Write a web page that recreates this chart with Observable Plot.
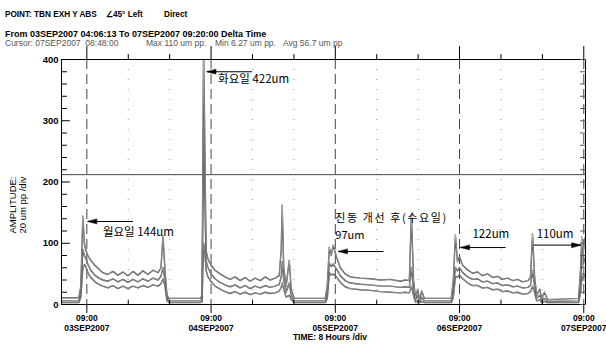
<!DOCTYPE html>
<html><head><meta charset="utf-8">
<script src="https://cdn.jsdelivr.net/npm/d3@7"></script>
<script src="https://cdn.jsdelivr.net/npm/@observablehq/plot@0.6"></script>
<style>
body{margin:0;background:#fff;}
#wrap{position:relative;width:606px;height:346px;font-family:"Liberation Sans",Arial,sans-serif;overflow:hidden;}
.h{position:absolute;white-space:pre;line-height:1;color:#000;}
.b{font-weight:bold;font-size:8.2px;}
.f{font-weight:bold;font-size:9px;}
.c{font-size:8.5px;color:#555;}
#plot{position:absolute;left:0;top:0;}
</style></head><body><div id="wrap"><div id="plot"></div>
<div class="h b" style="left:5px;top:11px">POINT: TBN EXH Y ABS</div>
<div class="h b" style="left:106px;top:11px">∠45° Left</div>
<div class="h b" style="left:164px;top:11px">Direct</div>
<div class="h f" style="left:5px;top:30px">From 03SEP2007 04:06:13 To 07SEP2007 09:20:00 Delta Time</div>
<div class="h c" style="left:5px;top:39px">Cursor: 07SEP2007  08:48:00</div>
<div class="h c" style="left:146px;top:39px">Max 110 um pp.</div>
<div class="h c" style="left:215px;top:39px">Min 6.27 um pp.</div>
<div class="h c" style="left:283px;top:39px">Avg 56.7 um pp</div>
<div class="h" style="left:18px;top:205px;transform:translate(-50%,-50%) rotate(-90deg);text-align:center;font-size:9.5px;line-height:10px">AMPLITUDE:<br>20 um pp /div</div>
<div class="h" style="left:330px;top:333px;transform:translateX(-50%);font-weight:bold;font-size:8.5px">TIME: 8 Hours /div</div>
</div>
<script>
// time in hours since 03SEP2007 00:00
const startHour = 4.104, endHour = 105.333;
const hours = [4.11,7.45,7.84,8.23,8.52,8.81,9.19,9.77,10.55,11.32,12.1,13.06,14.03,15.0,15.97,16.94,17.9,18.87,19.84,20.8,21.77,22.74,23.32,23.71,24.10,24.48,24.87,
  30.87,31.26,31.55,31.74,32.03,32.4,33.0,33.77,34.74,35.7,36.68,37.64,38.61,39.58,40.55,41.5,42.5,43.45,44.4,45.4,46.16,46.55,46.74,47.03,47.5,48.1,48.48,49.06,
  55.06,55.45,55.84,56.2,56.6,57.2,57.97,58.9,59.9,61.8,63.8,65.7,67.6,69.6,70.5,71.3,71.7,72.1,72.5,72.9,73.3,73.7,74.2,
  79.4,79.8,80.2,80.6,81.0,81.6,82.6,83.5,84.5,85.4,86.4,87.4,88.4,89.3,90.3,91.3,92.2,93.2,94.2,94.7,95.1,95.5,95.9,96.5,96.9,97.4,98.0,
  104.0,104.4,104.6,104.8,105.0,105.33];
const topTrace = [11,11,30,144,100,88,80,72,64,58,52,49,54,48,53,47,54,48,55,49,56,52,60,112,55,15,10,
  10,14,422,300,88,74,64,56,50,45,41,45,39,44,38,43,39,45,40,43,47,90,162,60,30,72,25,10,
  10,30,93,80,97,78,60,50,45,43,42,40,41,38,40,39,148,40,10,25,8,22,10,
  10,40,113,70,78,64,56,51,53,47,50,44,46,41,43,39,41,37,39,44,115,45,15,25,10,20,8,
  10,60,110,60,100,110];
const midTrace = [6,6,20,90,80,75,66,56,48,43,40,38,42,37,41,36,41,37,42,38,43,40,46,60,40,10,6,
  6,8,290,200,72,60,50,42,36,32,29,32,27,31,26,30,27,31,28,30,33,45,70,40,20,35,15,6,
  6,20,68,62,66,58,47,39,35,33,32,30,30,28,29,28,60,25,8,15,5,12,6,
  6,25,60,55,60,52,45,41,42,37,38,34,35,31,32,29,30,27,28,31,55,30,10,15,6,10,5,
  6,35,70,80,70,75];
const lowTrace = [3,3,12,60,65,62,52,44,37,33,30,27,31,26,30,26,30,27,31,28,32,30,34,42,30,6,3,
  3,4,100,90,56,45,37,30,25,21,18,21,17,20,16,19,17,20,18,19,22,28,35,25,12,15,8,3,
  3,10,52,48,50,45,36,29,26,24,23,21,20,19,20,19,30,15,4,6,3,5,3,
  3,12,45,45,48,42,35,31,31,27,28,24,25,21,22,19,20,17,18,21,30,20,6,8,3,5,3,
  3,20,40,50,45,50];
const alarmLevel = 212;
const yLabelTicks = [0,100,200,300,400];
const yMinorTicks = [20,40,60,80,120,140,160,180,220,240,260,280,320,340,360,380];
const dayTickHours = [9,33,57,81,105];
const dayTickLabels = ["03SEP2007","04SEP2007","05SEP2007","06SEP2007","07SEP2007"];
const eightHourTicks = [17,25,41,49,65,73,89,97];
const annoText = ["월요일 144um","화요일 422um","진동 개선 후(수요일)","97um","122um","110um"];
const annoHour = [12.1,34.35,57.0,57.0,83.5,95.9];
const annoValue = [117,366,135,120,113,113];
const annoAnchor = ["middle","middle","bottom","top","middle","middle"];
const arrowTipHour = [9.19,32.2,57.6,81.2,104.4];
const arrowTailHour = [17.9,40.9,66.3,89.9,95.3];
const arrowValue = [135.5,380,86.5,93,97];

const base = Date.UTC(2007,8,3);
const T = h => new Date(base + h*3600000);
const t0 = T(startHour), t1 = T(endHour);
const traces = [lowTrace, midTrace, topTrace].map(vals => hours.map((h,i)=>({t:T(h), v:vals[i]})));
const lineShape = {draw(ctx,l){ctx.moveTo(0,0);ctx.lineTo(0,-l);}};
const headShape = {draw(ctx,l){ctx.moveTo(0,-l);ctx.lineTo(-2.3,0);ctx.lineTo(2.3,0);ctx.closePath();}};
const arrows = arrowTipHour.map((h,i)=>({tip:T(h), tail:T(arrowTailHour[i]), v:arrowValue[i], r: h < arrowTailHour[i] ? -90 : 90}));
const annos = annoText.map((s,i)=>({s, t:T(annoHour[i]), v:annoValue[i], a:annoAnchor[i]}));
const dayTicks = dayTickHours.map(T);
const eightTicks = eightHourTicks.map(T);
const korFont = "'Noto Sans CJK KR', 'Noto Sans', sans-serif";

const marks = [
  Plot.ruleX(eightTicks, {x:d=>d, stroke:"#999", strokeDasharray:"1,9", strokeWidth:1}),
  Plot.ruleX(dayTicks, {x:d=>d, stroke:"#444", strokeDasharray:"10,5", strokeWidth:1}),
  Plot.ruleY([alarmLevel], {y:d=>d, stroke:"#333", strokeWidth:0.9}),
];
for (const tr of traces) {
  marks.push(Plot.line(tr, {x:"t", y:"v", stroke:"#333", strokeWidth:1.4, clip:"frame"}));
  marks.push(Plot.line(tr, {x:"t", y:"v", stroke:"#fff", strokeWidth:0.45, clip:"frame"}));
}
marks.push(
  Plot.frame({stroke:"#000", strokeWidth:1}),
  Plot.vector(yMinorTicks, {x:()=>t0, y:d=>d, rotate:90, length:5, anchor:"start", shape:lineShape, strokeWidth:1, stroke:"#000"}),
  Plot.vector(yLabelTicks, {x:()=>t0, y:d=>d, rotate:90, length:8, anchor:"start", shape:lineShape, strokeWidth:1, stroke:"#000"}),
  Plot.vector(yMinorTicks.concat(yLabelTicks), {x:()=>t1, y:d=>d, rotate:-90, length:5, anchor:"start", shape:lineShape, strokeWidth:1, stroke:"#555"}),
  Plot.vector(eightTicks, {x:d=>d, y:()=>0, rotate:0, length:4, anchor:"start", shape:lineShape, strokeWidth:1, stroke:"#000"}),
  Plot.vector(dayTicks, {x:d=>d, y:()=>0, rotate:180, length:8, anchor:"start", shape:lineShape, strokeWidth:1, stroke:"#000"}),
  Plot.vector(eightTicks, {x:d=>d, y:()=>400, rotate:0, length:5, anchor:"start", shape:lineShape, strokeWidth:1, stroke:"#000"}),
  Plot.vector(dayTicks, {x:d=>d, y:()=>400, rotate:0, length:13, anchor:"start", shape:lineShape, strokeWidth:1, stroke:"#000"}),
  Plot.text(yLabelTicks, {x:()=>t0, y:d=>d, text:d=>String(d), textAnchor:"end", dx:-3, fontWeight:"bold", fontSize:9.5, fill:"#000"}),
  Plot.text(dayTicks, {x:d=>d, y:()=>0, text:(d,i)=>"09:00\n"+dayTickLabels[i], lineAnchor:"top", dy:9, fontWeight:"bold", fontSize:8.5, lineHeight:1.18, fill:"#000"}),
  Plot.link(arrows, {x1:"tail", x2:"tip", y1:"v", y2:"v", stroke:"#000", strokeWidth:1}),
  Plot.vector(arrows, {x:"tip", y:"v", rotate:"r", length:9, anchor:"end", shape:headShape, fill:"#000", stroke:"#000", strokeWidth:0.6}),
  Plot.text(annos.filter(d=>d.a==="middle"), {x:"t", y:"v", text:"s", textAnchor:"start", dy:-1, fontSize:11.5, fontFamily:korFont, fill:"#000"}),
  Plot.text(annos.filter(d=>d.a==="bottom"), {x:"t", y:"v", text:"s", textAnchor:"start", lineAnchor:"bottom", fontSize:11, fontFamily:korFont, fill:"#000"}),
  Plot.text(annos.filter(d=>d.a==="top"), {x:"t", y:"v", text:"s", textAnchor:"start", lineAnchor:"top", fontSize:11, fontFamily:korFont, fill:"#000"})
);

const chart = Plot.plot({
  width:606, height:346,
  marginLeft:61, marginRight:21, marginTop:59, marginBottom:42,
  x:{type:"utc", domain:[t0,t1], axis:null},
  y:{domain:[0,400], axis:null},
  style:{fontFamily:"'Liberation Sans', Arial, sans-serif", background:"transparent", overflow:"visible"},
  marks
});
d3.select(chart).selectAll("text").filter(function(){return this.textContent.includes("진동");}).style("letter-spacing","1.6px");
document.getElementById("plot").appendChild(chart);
</script></body></html>
